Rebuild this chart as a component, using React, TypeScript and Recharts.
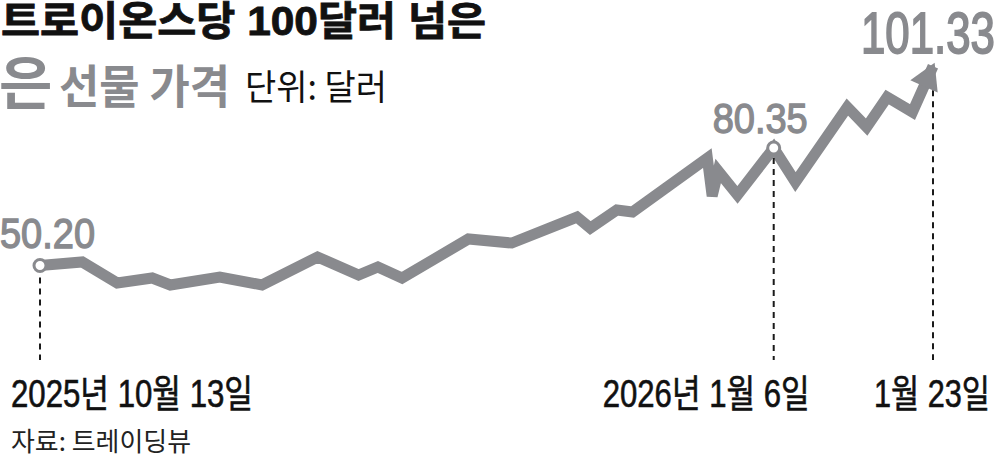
import React from 'react';
import { LineChart, Line, XAxis, YAxis } from 'recharts';

// trading-day position (0 = 2025-10-13, 74 = 2026-01-23)
const tradingDay = [0, 3.5, 6.4, 9.3, 10.8, 14.9, 18.4, 23.0, 26.4, 28.0, 30.0, 35.5, 39.1, 44.5, 45.6, 47.8, 49.1, 55.3, 55.7, 56.2, 57.8, 60.8, 62.6, 66.9, 68.5, 70.2, 72.3, 74];
// silver futures price, USD per troy ounce
const silverPrice = [50.2, 51.1, 45.71, 46.99, 45.2, 47.25, 45.2, 52.38, 47.76, 49.81, 46.99, 57.0, 55.97, 62.64, 59.82, 64.44, 63.93, 77.79, 68.04, 74.46, 68.3, 80.35, 71.63, 90.87, 85.74, 93.44, 89.59, 101.33];
const dateTicks = [0, 60.8, 74];
const dateLabels = ['2025년 10월 13일', '2026년 1월 6일', '1월 23일'];
const highlightIdx = [0, 21, 27];

const titleMain = '트로이온스당 100달러 넘은';
const titleSubBig = '은';
const titleSub = '선물 가격';
const unitText = '단위: 달러';
const sourceText = '자료: 트레이딩뷰';

const data = tradingDay.map((t, i) => ({ t, v: silverPrice[i] }));

const GRAY = '#898a8e';
const FONT = "'Liberation Sans', 'Noto Sans CJK KR', sans-serif";
const KFONT = "'Noto Sans CJK KR', sans-serif";
const DASH_END = 360;

// condensed text: narrower font scaled up vertically, then fitted to width
const CText = (p: any) => {
  const { x, y, size, sy = 1.25, len, children, ...rest } = p;
  return (
    <text
      transform={`translate(${x},${y}) scale(1,${sy})`}
      fontSize={size / sy}
      textLength={len}
      lengthAdjust="spacingAndGlyphs"
      {...rest}
    >
      {children}
    </text>
  );
};

const renderDot = (props: any) => {
  const { cx, cy, index, points } = props;
  const key = `dot-${index}`;
  if (cx == null || cy == null || highlightIdx.indexOf(index) < 0) return <g key={key} />;
  const label = silverPrice[index].toFixed(2);
  const last = index === silverPrice.length - 1;
  if (last) {
    let dx = 0.378;
    let dy = -0.926;
    const prev = points && points[index - 1];
    if (prev) {
      const ddx = cx - prev.x;
      const ddy = cy - prev.y;
      const len = Math.sqrt(ddx * ddx + ddy * ddy) || 1;
      dx = ddx / len;
      dy = ddy / len;
    }
    const tipX = cx + dx * 4;
    const tipY = cy + dy * 4;
    const bx = tipX - dx * 26;
    const by = tipY - dy * 26;
    const px = -dy;
    const py = dx;
    const hw = 15;
    const pts = `${tipX},${tipY} ${bx + px * hw},${by + py * hw} ${bx - px * hw},${by - py * hw}`;
    return (
      <g key={key}>
        <line x1={cx} y1={cy + 24} x2={cx} y2={DASH_END} stroke="#1a1a1a" strokeWidth={2} strokeDasharray="6 5" />
        <polygon points={pts} fill={GRAY} />
        <CText x={cx - 72} y={cy - 13} size={58} sy={1.42} len={134} fontFamily={FONT} fill={GRAY} stroke={GRAY} strokeWidth={1.3}>{label}</CText>
      </g>
    );
  }
  const isFirst = index === 0;
  return (
    <g key={key}>
      <line x1={cx} y1={cy + (isFirst ? 12 : 10)} x2={cx} y2={DASH_END} stroke="#1a1a1a" strokeWidth={2} strokeDasharray="6 5" />
      <circle cx={cx} cy={cy} r={6} fill="#fff" stroke={GRAY} strokeWidth={3} />
      <CText
        x={isFirst ? cx - 40 : cx - 61}
        y={isFirst ? cy - 18 : cy - 15}
        size={43}
        len={95}
        fontFamily={FONT}
        fill={GRAY}
        stroke={GRAY}
        strokeWidth={1.1}
      >
        {label}
      </CText>
    </g>
  );
};

const tickShift = [-29, -171, -59];
const tickLen = [242, 207, 116];

const renderTick = (props: any) => {
  const { x, payload } = props;
  const i = dateTicks.indexOf(payload.value);
  if (i < 0) return <g />;
  return (
    <CText x={x + tickShift[i]} y={407} size={38} len={tickLen[i]} fontFamily={FONT} fill="#111" stroke="#111" strokeWidth={0.5}>
      {dateLabels[i]}
    </CText>
  );
};

export default function App() {
  return (
    <div style={{ position: 'absolute', left: 0, top: 0, width: 1000, height: 459, background: '#fff', overflow: 'hidden' }}>
      <LineChart width={1000} height={459} data={data} margin={{ top: 32.5, right: 67, bottom: 123.75, left: 40 }}>
        <XAxis
          type="number"
          dataKey="t"
          domain={[0, 74]}
          ticks={dateTicks}
          interval={0}
          height={30}
          axisLine={false}
          tickLine={false}
          tick={renderTick}
        />
        <YAxis type="number" domain={[40, 110]} hide />
        <Line
          type="linear"
          dataKey="v"
          stroke={GRAY}
          strokeWidth={11}
          strokeLinejoin="miter"
          strokeLinecap="butt"
          dot={renderDot}
          activeDot={false}
          isAnimationActive={false}
        />
      </LineChart>
      <svg width={1000} height={459} style={{ position: 'absolute', left: 0, top: 0, pointerEvents: 'none' }}>
        <text x={1} y={35} fontFamily={FONT} fontWeight={700} fontSize={40} fill="#111" stroke="#111" strokeWidth={0.8} textLength={485} lengthAdjust="spacingAndGlyphs">{titleMain}</text>
        <text x={-1} y={104} fontFamily={KFONT} fontWeight={700} fontSize={58} fill={GRAY}>{titleSubBig}</text>
        <text x={59} y={103} fontFamily={KFONT} fontWeight={700} fontSize={46} fill={GRAY} textLength={171} lengthAdjust="spacingAndGlyphs">{titleSub}</text>
        <text x={245} y={100} fontFamily={KFONT} fontWeight={400} fontSize={35} fill="#111" textLength={142} lengthAdjust="spacingAndGlyphs">{unitText}</text>
        <text x={11} y={451} fontFamily={KFONT} fontWeight={400} fontSize={26} fill="#222" textLength={180} lengthAdjust="spacingAndGlyphs">{sourceText}</text>
      </svg>
    </div>
  );
}
